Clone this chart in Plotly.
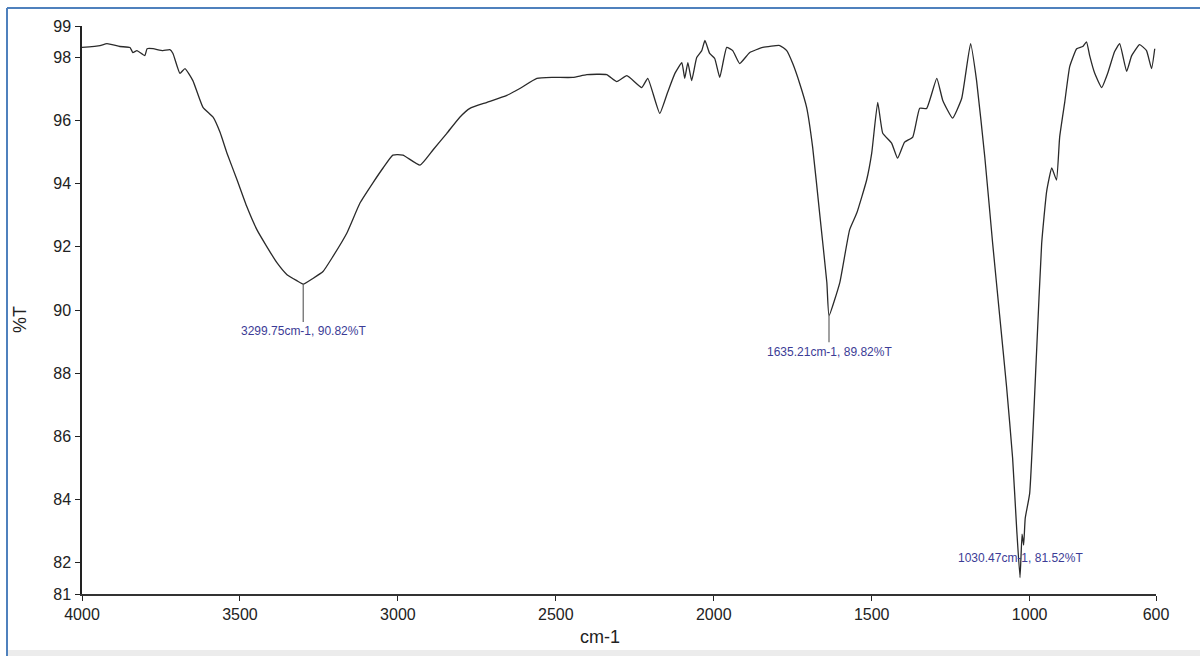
import plotly.graph_objects as go

# FTIR spectrum: wavenumber (cm-1) and transmittance (%T)
wavenumber = [
    4000, 3943, 3921, 3880, 3848, 3839, 3826, 3801, 3794, 3775, 3744, 3722, 3712,
    3690, 3674, 3649, 3617, 3585, 3563, 3541, 3509, 3478, 3446, 3415, 3383, 3351,
    3320, 3299.75, 3269, 3237, 3206, 3161, 3120, 3079, 3047, 3016, 2984, 2930,
    2889, 2845, 2804, 2772, 2718, 2655, 2614, 2560, 2509, 2446, 2402, 2339, 2307,
    2275, 2228, 2209, 2171, 2146, 2123, 2101, 2092, 2082, 2070, 2054, 2038, 2028,
    2013, 1997, 1981, 1959, 1940, 1918, 1886, 1845, 1791, 1769, 1750, 1728, 1706,
    1687, 1665, 1642, 1635.21, 1601, 1570, 1547, 1516, 1500, 1481, 1465, 1437,
    1418, 1396, 1370, 1348, 1326, 1294, 1275, 1244, 1215, 1187, 1168, 1142, 1117,
    1095, 1073, 1054, 1041, 1030.47, 1024, 1019, 1014, 1000, 978, 962, 946, 930,
    915, 905, 889, 873, 851, 832, 820, 810, 794, 772, 753, 731, 715, 693, 677, 652,
    630, 614, 604,
]
transmittance = [
    98.32, 98.38, 98.44, 98.35, 98.32, 98.16, 98.22, 98.06, 98.28, 98.28, 98.22,
    98.25, 98.13, 97.50, 97.65, 97.27, 96.42, 96.11, 95.63, 94.97, 94.12, 93.27,
    92.54, 92.01, 91.50, 91.12, 90.93, 90.82, 91.00, 91.22, 91.69, 92.45, 93.39,
    94.03, 94.50, 94.91, 94.91, 94.59, 95.07, 95.60, 96.11, 96.39, 96.58, 96.80,
    97.02, 97.34, 97.37, 97.37, 97.46, 97.46, 97.24, 97.43, 97.05, 97.34, 96.23,
    96.90, 97.50, 97.84, 97.34, 97.84, 97.27, 98.00, 98.22, 98.54, 98.13, 97.97,
    97.37, 98.32, 98.22, 97.81, 98.16, 98.32, 98.38, 98.22, 97.81, 97.18, 96.42,
    95.16, 93.08, 90.87, 89.82, 90.87, 92.54, 93.08, 94.12, 94.97, 96.58, 95.60,
    95.29, 94.81, 95.32, 95.48, 96.39, 96.39, 97.34, 96.64, 96.08, 96.71, 98.44,
    97.27, 94.85, 92.10, 89.83, 87.56, 85.32, 83.05, 81.52, 82.90, 82.55, 83.40,
    84.18, 88.69, 92.10, 93.77, 94.50, 94.12, 95.48, 96.58, 97.72, 98.28, 98.35,
    98.50, 98.06, 97.50, 97.05, 97.50, 98.19, 98.44, 97.56, 98.06, 98.41, 98.22,
    97.65, 98.28,
]

# Labelled peaks
peak_wn = [3299.75, 1635.21, 1030.47]
peak_t = [90.82, 89.82, 81.52]
peak_text = ["3299.75cm-1, 90.82%T", "1635.21cm-1, 89.82%T", "1030.47cm-1, 81.52%T"]
label_t = [89.33, 88.66, 82.13]
leader_end_t = [89.62, 88.98, None]

y_ticks = [99, 98, 96, 94, 92, 90, 88, 86, 84, 82, 81]
x_ticks = [4000, 3500, 3000, 2500, 2000, 1500, 1000, 600]

W, H = 1200, 656
L, R, T, B = 82, 44, 26, 62
PW, PH = W - L - R, H - T - B


def px(x):
    return (x - L) / PW


def py(y):
    return (H - B - y) / PH


tick_font = dict(family="Liberation Sans Narrow, Arial Narrow, Liberation Sans, Arial",
                 size=16, color="#222222")
label_font = dict(family="Liberation Sans Narrow, Arial Narrow, Liberation Sans, Arial",
                  size=12, color="#3c3c96")

fig = go.Figure()
fig.add_trace(go.Scatter(
    x=wavenumber, y=transmittance, mode="lines",
    line=dict(color="#2a2a2a", width=1.3, shape="spline", smoothing=0.4),
    hoverinfo="x+y", showlegend=False,
))

for wn, t0, t1 in zip(peak_wn, peak_t, leader_end_t):
    if t1 is None:
        continue
    fig.add_trace(go.Scatter(
        x=[wn, wn], y=[t0, t1], mode="lines",
        line=dict(color="#555555", width=1.1), hoverinfo="skip", showlegend=False,
    ))

annotations = []
for wn, ty, txt in zip(peak_wn, label_t, peak_text):
    annotations.append(dict(x=wn, y=ty, xref="x", yref="y", text=txt, showarrow=False,
                            font=label_font, xanchor="center", yanchor="middle"))

annotations.append(dict(x=px(600), y=py(637), xref="paper", yref="paper", text="cm-1",
                        showarrow=False, font=dict(tick_font, size=18),
                        xanchor="center", yanchor="middle"))
annotations.append(dict(x=px(20), y=py(320), xref="paper", yref="paper", text="%T",
                        showarrow=False, font=dict(tick_font, size=18), textangle=-90,
                        xanchor="center", yanchor="middle"))

shapes = [
    # window frame
    dict(type="line", xref="paper", yref="paper", x0=px(7), x1=px(7), y0=py(8), y1=py(656),
         line=dict(color="#4f81bd", width=2)),
    dict(type="line", xref="paper", yref="paper", x0=px(7), x1=px(1200), y0=py(8), y1=py(8),
         line=dict(color="#4f81bd", width=2)),
    dict(type="rect", xref="paper", yref="paper", x0=px(8), x1=px(1200), y0=py(650), y1=py(656),
         fillcolor="#ececec", line=dict(width=0), layer="below"),
]

fig.update_layout(
    width=W, height=H,
    margin=dict(l=L, r=R, t=T, b=B),
    paper_bgcolor="white", plot_bgcolor="white",
    annotations=annotations, shapes=shapes,
    xaxis=dict(range=[4000, 600], tickvals=x_ticks, ticks="outside", ticklen=5,
               tickcolor="#222", showline=True, linecolor="#333", linewidth=1.5,
               showgrid=False, zeroline=False, tickfont=tick_font),
    yaxis=dict(range=[81, 99], tickvals=y_ticks, ticks="outside", ticklen=5,
               tickcolor="#222", showline=True, linecolor="#222", linewidth=1.5,
               showgrid=False, zeroline=False, tickfont=tick_font, ticklabelstandoff=1),
)

fig.write_html("out.html")
